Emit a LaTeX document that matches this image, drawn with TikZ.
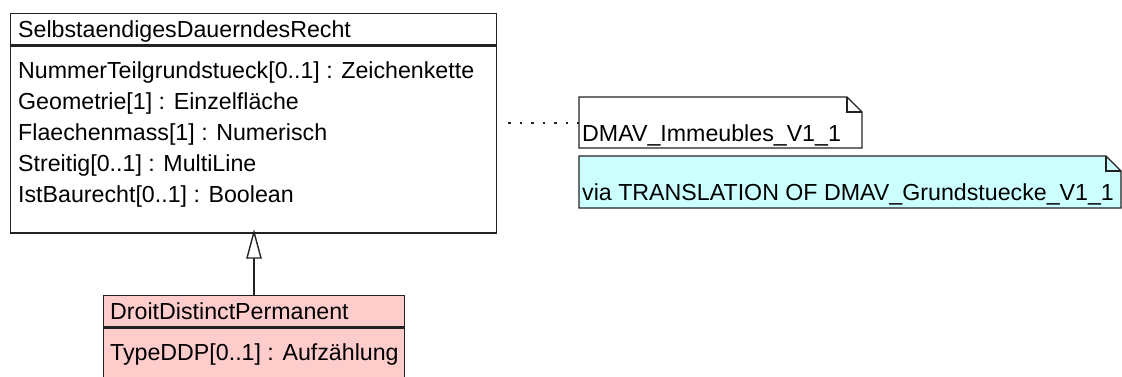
\documentclass[tikz,border=0pt]{standalone}
\usepackage{fontspec}
\setmainfont{Liberation Sans}
\definecolor{linec}{HTML}{222222}
\definecolor{pinkfill}{HTML}{FFCCCC}
\definecolor{cyanfill}{HTML}{CCFFFF}
\begin{document}
\begin{tikzpicture}[x=1pt,y=-1pt,
  box/.style={draw=linec, line width=1.4pt, inner sep=0pt, anchor=north west},
  txt/.style={anchor=base west, inner sep=0pt, text=black, font=\fontsize{23.2}{27}\selectfont},
  noteline/.style={draw=linec, line width=1.2pt},
  gen/.style={draw=linec, line width=1.4pt},
  dots/.style={draw=linec, line width=1.6pt, dash pattern=on 2.5pt off 9pt}]
\useasboundingbox (0,0) rectangle (1122,376);
\fill[white] (0,0) rectangle (1122,376);

% superclass
\node[box, minimum width=486pt, minimum height=31pt] (suphead) at (10,13) {};
\node[box, minimum width=486pt, minimum height=187pt] (supbody) at (suphead.south west) {};
\node[txt] (supname) at (18,37) {SelbstaendigesDauerndesRecht};
\node[txt] (a1) at (18,78) {NummerTeilgrundstueck[0..1] : Zeichenkette};
\node[txt] (a2) at (18,109) {Geometrie[1] : Einzelfläche};
\node[txt] (a3) at (18,140) {Flaechenmass[1] : Numerisch};
\node[txt] (a4) at (18,171) {Streitig[0..1] : MultiLine};
\node[txt] (a5) at (18,202) {IstBaurecht[0..1] : Boolean};

% subclass
\node[box, fill=pinkfill, minimum width=301pt, minimum height=31pt] (subhead) at (103,295) {};
\node[box, fill=pinkfill, minimum width=301pt, minimum height=60pt] (subbody) at (subhead.south west) {};
\node[txt] (subname) at (110,319) {DroitDistinctPermanent};
\node[txt] (b1) at (110,360) {TypeDDP[0..1] : Aufzählung};

% generalization
\coordinate (gtop) at (254,232);
\coordinate (gbase) at (254,258);
\draw[gen] (subhead.north -| gbase) -- (gbase);
\draw[gen, fill=white] (gtop) -- (261,258) -- (247,258) -- cycle;

% note 1
\coordinate (n1nw) at (579,97);
\coordinate (n1se) at (862,148);
\draw[noteline, fill=white] (n1nw) -- ([xshift=-15pt]n1se |- n1nw) coordinate (n1f)
  -- ([yshift=-15pt]n1se |- n1nw) -- (n1se) -- (n1nw |- n1se) -- cycle;
\draw[noteline] (n1f) |- ([yshift=-15pt]n1se |- n1nw);
\node[txt] (n1) at (582,141) {DMAV\_Immeubles\_V1\_1};

% note 2
\coordinate (n2nw) at (579,156);
\coordinate (n2se) at (1121,208);
\draw[noteline, fill=cyanfill] (n2nw) -- ([xshift=-15pt]n2se |- n2nw) coordinate (n2f)
  -- ([yshift=-15pt]n2se |- n2nw) -- (n2se) -- (n2nw |- n2se) -- cycle;
\draw[noteline] (n2f) |- ([yshift=-15pt]n2se |- n2nw);
\node[txt] (n2) at (582,200) {via TRANSLATION OF DMAV\_Grundstuecke\_V1\_1};

% dotted link
\coordinate (dstart) at (508,123);
\coordinate (n1w) at (579,123);
\draw[dots] (dstart) -- (n1w);
\end{tikzpicture}
\end{document}
